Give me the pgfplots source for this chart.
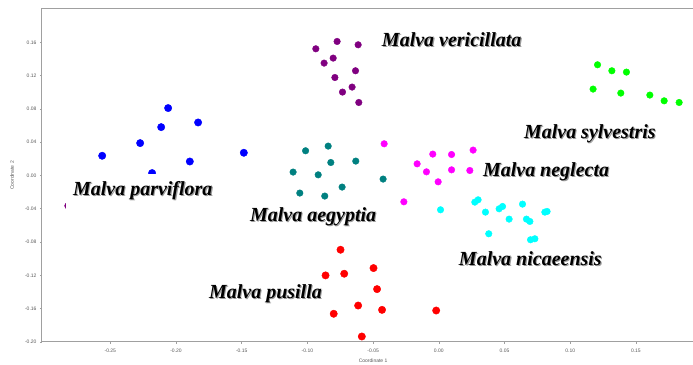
\documentclass[border=0pt]{standalone}
\usepackage{pgfplots}
\pgfplotsset{compat=1.18}
\usepackage{fontspec}
\setmainfont{Liberation Serif}
\newfontfamily\arial{Liberation Sans}
\definecolor{mpurple}{RGB}{128,0,128}
\definecolor{mteal}{RGB}{0,128,128}
\definecolor{mgreen}{RGB}{0,255,0}
\definecolor{mmag}{RGB}{255,0,255}
\definecolor{mcyan}{RGB}{0,255,255}
\definecolor{axgray}{RGB}{160,160,160}
\newcommand{\labfont}{\fontsize{20}{23}\selectfont\bfseries\itshape}
\newcommand{\lab}[3]{%
  \node[anchor=base west, inner sep=0pt, text=black!40, font=\labfont] at ([shift={(1.1pt,-1.1pt)}]axis cs:#1,#2) {#3};
  \node[anchor=base west, inner sep=0pt, text=black, font=\labfont] at (axis cs:#1,#2) {#3};}
\begin{document}
\begin{tikzpicture}
\begin{axis}[
  scale only axis,
  width=659.6pt, height=333pt,
  xmin=-0.302, xmax=0.2, ymin=-0.2, ymax=0.2,
  axis line style={axgray, line width=1pt},
  xtick={-0.25,-0.2,-0.15,-0.1,-0.05,0,0.05,0.1,0.15},
  xticklabels={-0.25,-0.20,-0.15,-0.10,-0.05,0.00,0.05,0.10,0.15},
  ytick={-0.2,-0.16,-0.12,-0.08,-0.04,0,0.04,0.08,0.12,0.16},
  yticklabels={-0.20,-0.16,-0.12,-0.08,-0.04,0.00,0.04,0.08,0.12,0.16},
  tick align=outside, major tick length=2pt,
  tick style={axgray, line width=0.6pt},
  xtick pos=bottom, ytick pos=left,
  tick label style={font=\arial\fontsize{5}{6}\selectfont, text=black!65},
  xticklabel style={yshift=-1pt},
  xlabel={Coordinate 1}, ylabel={Coordinate 2},
  label style={font=\arial\fontsize{5}{6}\selectfont, text=black!65},
  xlabel style={at={(axis description cs:0.502,0)}, anchor=center, yshift=-19pt},
  ylabel style={at={(axis description cs:-0.0455,0.5)}, anchor=center},
  clip=false, clip marker paths=true,
]
% Malva parviflora (blue)
\addplot[only marks, mark=*, mark size=3.7pt, color=blue] coordinates {
(-0.2562,0.0237) (-0.2273,0.0389) (-0.2113,0.0581) (-0.2060,0.0810)
(-0.1832,0.0637) (-0.1895,0.0168) (-0.2182,0.0029) (-0.1484,0.0273)};
% Malva vericillata (purple)
\addplot[only marks, mark=*, mark size=3.3pt, color=mpurple] coordinates {
(-0.0936,0.1522) (-0.0774,0.1610) (-0.0614,0.1570) (-0.0873,0.1350)
(-0.0804,0.1410) (-0.0634,0.1258) (-0.0791,0.1177) (-0.0733,0.1002)
(-0.0660,0.1062) (-0.0609,0.0877) (-0.2823,-0.0364)};
% Malva sylvestris (green)
\addplot[only marks, mark=*, mark size=3.3pt, color=mgreen] coordinates {
(0.1208,0.1330) (0.1317,0.1258) (0.1428,0.1242) (0.1174,0.1038)
(0.1385,0.0990) (0.1606,0.0966) (0.1715,0.0897) (0.1829,0.0877)};
% Malva neglecta (magenta)
\addplot[only marks, mark=*, mark size=3.3pt, color=mmag] coordinates {
(-0.0416,0.0381) (-0.0046,0.0257) (0.0097,0.0252) (0.0261,0.0305)
(-0.0165,0.0140) (-0.0094,0.0044) (0.0097,0.0068) (0.0236,0.0060)
(-0.0005,-0.0076) (-0.0266,-0.0316)};
% Malva nicaeensis (cyan)
\addplot[only marks, mark=*, mark size=3.3pt, color=mcyan] coordinates {
(0.0013,-0.0412) (0.0274,-0.0320) (0.0299,-0.0292) (0.0355,-0.0440)
(0.0459,-0.0400) (0.0485,-0.0372) (0.0535,-0.0524) (0.0637,-0.0344)
(0.0667,-0.0524) (0.0693,-0.0552) (0.0807,-0.0440) (0.0824,-0.0432)
(0.0380,-0.0700) (0.0698,-0.0772) (0.0731,-0.0760)};
% Malva pusilla (red)
\addplot[only marks, mark=*, mark size=3.7pt, color=red] coordinates {
(-0.0748,-0.0892) (-0.0862,-0.1200) (-0.0720,-0.1180) (-0.0800,-0.1661)
(-0.0497,-0.1112) (-0.0470,-0.1365) (-0.0614,-0.1562) (-0.0432,-0.1614)
(-0.0586,-0.1934) (-0.0020,-0.1622)};
% Malva aegyptia (teal)
\addplot[only marks, mark=*, mark size=3.3pt, color=mteal] coordinates {
(-0.1014,0.0297) (-0.0842,0.0353) (-0.0822,0.0156) (-0.0632,0.0173)
(-0.1109,0.0041) (-0.0918,0.0008) (-0.0424,-0.0043) (-0.0736,-0.0139)
(-0.1058,-0.0211) (-0.0868,-0.0247)};
% labels
\node[anchor=base west, fill=white, inner xsep=7.5pt, inner ysep=7pt, text height=14.5pt, text depth=10pt, text=white, font=\labfont] at ([xshift=-7.5pt]axis cs:-0.2785,-0.0238) {Malva parviflora};
\lab{-0.0434}{0.1549}{Malva vericillata}
\lab{0.0647}{0.0449}{Malva sylvestris}
\lab{0.0335}{-0.0012}{Malva neglecta}
\lab{-0.2785}{-0.0238}{Malva parviflora}
\lab{-0.1438}{-0.0552}{Malva aegyptia}
\lab{-0.175}{-0.148}{Malva pusilla}
\lab{0.0152}{-0.1084}{Malva nicaeensis}
\end{axis}
\pgfresetboundingbox
\path ([shift={(-42pt,-23pt)}]current axis.south west) rectangle ([shift={(-8.6pt,9pt)}]current axis.north east);
\end{tikzpicture}
\end{document}
